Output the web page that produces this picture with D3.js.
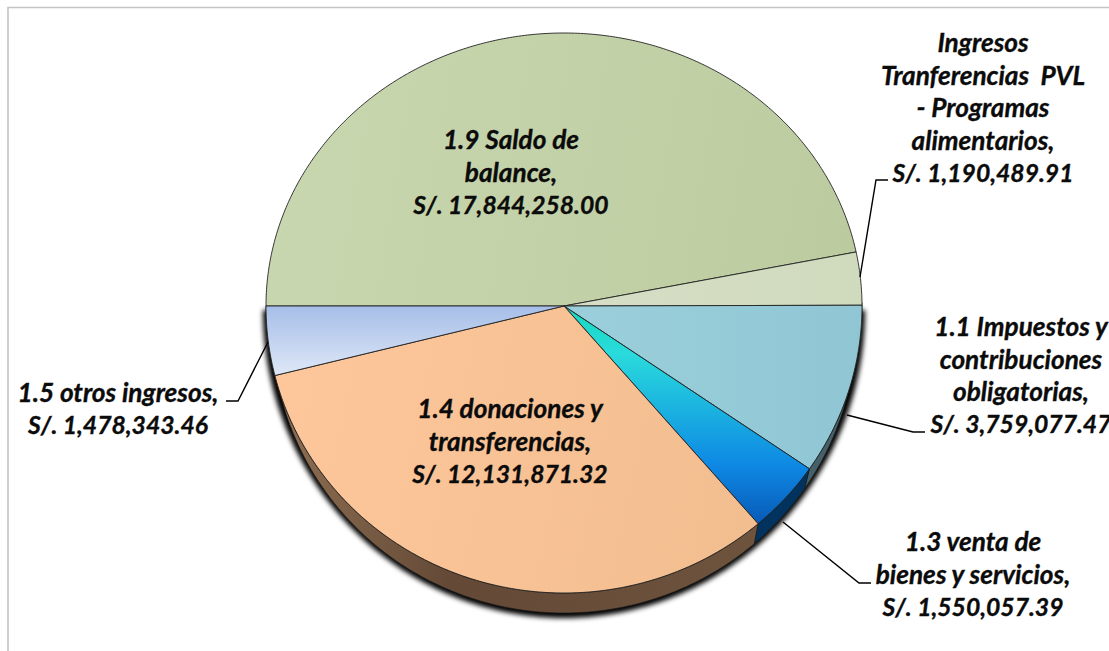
<!DOCTYPE html>
<html>
<head>
<meta charset="utf-8">
<script src="https://cdn.jsdelivr.net/npm/d3@7"></script>
<style>
  html, body { margin: 0; padding: 0; background: #fff; overflow: hidden; }
  text { font-family: Lato, "Open Sans", sans-serif; font-weight: 700; font-style: italic; fill: #0b0b0b; stroke: #0b0b0b; stroke-width: 0.35; white-space: pre; }
</style>
</head>
<body>
<div id="chart"></div>
<script>
const categories = [
    "1.9 Saldo de balance",
    "Ingresos Tranferencias PVL - Programas alimentarios",
    "1.1 Impuestos y contribuciones obligatorias",
    "1.3 venta de bienes y servicios",
    "1.4 donaciones y transferencias",
    "1.5 otros ingresos"
];
const amounts = [17844258.00, 1190489.91, 3759077.47, 1550057.39, 12131871.32, 1478343.46];
const labelLines = [
    ["1.9 Saldo de", "balance,"],
    ["Ingresos", "Tranferencias  PVL", "- Programas", "alimentarios,"],
    ["1.1 Impuestos y", "contribuciones", "obligatorias,"],
    ["1.3 venta de", "bienes y servicios,"],
    ["1.4 donaciones y", "transferencias,"],
    ["1.5 otros ingresos,"]
];

const width = 1109, height = 651;
const cx = 564, cy = 306;
const rx = 298, ryTop = 273, ryBottom = 287;
const depth = 20, rxBase = 292;

// x of the text block, y of its first line
const labelPos = [[511, 140], [983, 43], [1021, 327], [973, 542], [510, 409], [118, 393]];
const leaders = [
    null,
    [[860, 277], [876, 180], [888, 180]],
    [[847, 415], [913, 432], [925, 432]],
    [[783, 522], [859, 583], [871, 583]],
    null,
    [[268, 342], [238, 401], [226, 401]]
];
const topFill = ["url(#g-saldo)", "url(#g-pvl)", "url(#g-imp)", "url(#g-venta)", "url(#g-don)", "url(#g-otros)"];
const sideFill = ["#6a7658", "#6f7864", "#466069", "#02335f", "url(#g-side)", "#5d6b85"];

const svg = d3.select("#chart").append("svg")
    .attr("width", width)
    .attr("height", height)
    .style("display", "block");

const defs = svg.append("defs");

function gradient(id, x1, y1, x2, y2, stops) {
    const g = defs.append("linearGradient").attr("id", id)
        .attr("gradientUnits", "userSpaceOnUse")
        .attr("x1", x1).attr("y1", y1).attr("x2", x2).attr("y2", y2);
    stops.forEach(s => g.append("stop").attr("offset", s[0]).attr("stop-color", s[1]));
}
gradient("g-saldo", 265, 150, 860, 250, [[0, "#c9d7b0"], [1, "#bccb9f"]]);
gradient("g-pvl", 564, 280, 862, 280, [[0, "#d6dfc6"], [1, "#d0dabd"]]);
gradient("g-imp", 564, 350, 862, 350, [[0, "#9bcfdb"], [1, "#90c6d4"]]);
gradient("g-venta", 0, 310, 0, 526, [[0, "#17d8c0"], [0.2, "#2adbdc"], [0.45, "#1bb4e0"], [0.72, "#0e88e4"], [1, "#0759b5"]]);
gradient("g-don", 275, 400, 760, 500, [[0, "#fdc79b"], [1, "#f2bd8f"]]);
gradient("g-otros", 0, 306, 0, 376, [[0, "#a6bee8"], [1, "#dfe8f7"]]);
gradient("g-side", 275, 450, 760, 530, [[0, "#8f6f52"], [0.4, "#634936"], [1, "#6e533d"]]);

defs.append("filter").attr("id", "blur")
    .attr("x", "-5%").attr("y", "-5%").attr("width", "110%").attr("height", "110%")
    .append("feGaussianBlur").attr("stdDeviation", 2.4);

// chart frame, cut by the window on the right and at the bottom
svg.append("path")
    .attr("d", d3.line()([[8, height], [8, 7.5], [width, 7.5]]))
    .attr("fill", "none")
    .attr("stroke", "#c4c4c4")
    .attr("stroke-width", 1.6);

const pie = d3.pie().sort(null).startAngle(-Math.PI / 2).endAngle(Math.PI * 1.5);
const slices = pie(amounts);

// the 3D view pulls the right side slightly towards the viewer
function warp(a) {
    let d = 0;
    if (a > 0 && a < Math.PI) d += 0.012 * Math.sin(a);
    if (a > Math.PI / 2 && a < Math.PI) d += 0.02 * Math.sin(2 * (a - Math.PI / 2));
    return a - d;
}
function topPoint(a) {
    const w = warp(a), c = Math.cos(w);
    return [cx + rx * Math.sin(w), cy - c * (c > 0 ? ryTop : ryBottom)];
}
function basePoint(a) {
    const w = warp(a);
    return [cx + rxBase * Math.sin(w), cy + depth - Math.cos(w) * (Math.cos(w) > 0 ? ryTop : ryBottom)];
}
function samples(a0, a1) {
    const n = Math.max(2, Math.ceil((a1 - a0) / 0.01));
    return d3.range(n + 1).map(i => a0 + (a1 - a0) * i / n);
}
const line = d3.line();

// soft drop shadow under the lower half
const shadowY = d3.scaleLinear().domain([-1, 0]).range([cy + 312, cy + 4]);
svg.append("path")
    .attr("d", line(samples(Math.PI / 2, Math.PI * 1.5).map(a =>
        [cx + 301 * Math.sin(a), shadowY(Math.cos(a))])) + "Z")
    .attr("fill", "#000")
    .attr("filter", "url(#blur)");

// side walls, only where the rim faces the viewer
svg.append("g").selectAll("path")
    .data(slices.filter(d => d.endAngle > Math.PI / 2 && d.startAngle < Math.PI * 1.5))
    .join("path")
    .attr("d", d => {
        const as = samples(Math.max(d.startAngle, Math.PI / 2), Math.min(d.endAngle, Math.PI * 1.5));
        return line(as.map(topPoint).concat(as.slice().reverse().map(basePoint))) + "Z";
    })
    .attr("fill", d => sideFill[d.index])
    .attr("stroke", "#1c1c1c")
    .attr("stroke-width", 0.7);

// top surface
svg.append("g").selectAll("path")
    .data(slices)
    .join("path")
    .attr("d", d => line([[cx, cy]].concat(samples(d.startAngle, d.endAngle).map(topPoint))) + "Z")
    .attr("fill", d => topFill[d.index])
    .attr("stroke", "#222")
    .attr("stroke-width", 0.9)
    .attr("stroke-linejoin", "round");

// leader lines
svg.append("g").selectAll("path")
    .data(leaders.filter(Boolean))
    .join("path")
    .attr("d", d => line(d))
    .attr("fill", "none")
    .attr("stroke", "#000")
    .attr("stroke-width", 1.4);

// data labels: category lines, then the amount (Lato digits run wide, so they are set a bit smaller)
const money = v => "S/. " + d3.format(",.2f")(v);
const labels = svg.append("g").selectAll("text")
    .data(slices)
    .join("text")
    .attr("text-anchor", "middle");
labels.selectAll("tspan")
    .data(d => {
        const names = labelLines[d.index].map(t => ({ t, size: 26.2 }));
        return names.concat({ t: money(d.data), size: 24.7 }).map((o, i) => ({ ...o, i, k: d.index }));
    })
    .join("tspan")
    .attr("x", d => labelPos[d.k][0])
    .attr("y", d => labelPos[d.k][1] + d.i * 32.6)
    .attr("dy", "0.35em")
    .attr("font-size", d => d.size)
    .text(d => d.t);
</script>
</body>
</html>
